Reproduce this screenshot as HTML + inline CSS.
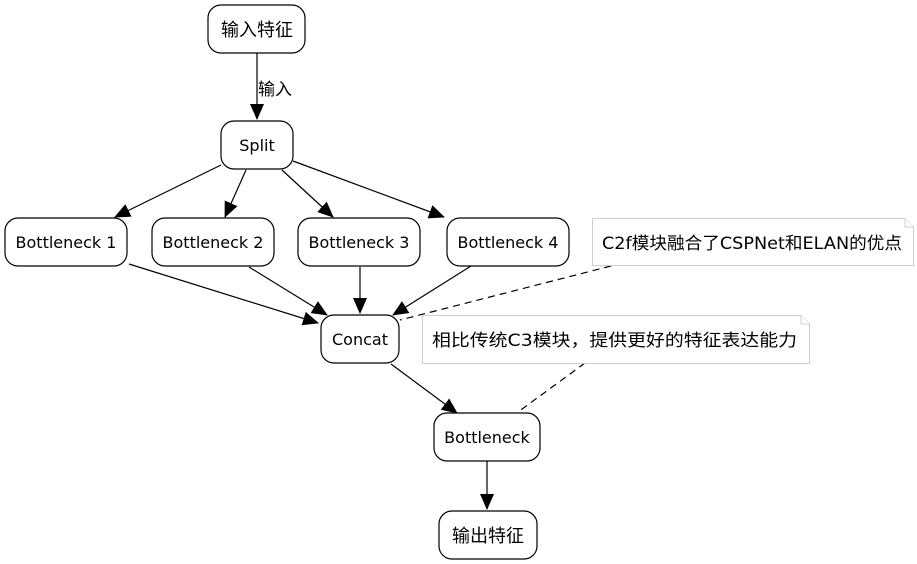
<!DOCTYPE html>
<html><head><meta charset="utf-8"><style>
html,body{margin:0;padding:0;background:#fff;}
svg{display:block;}
text{font-family:"DejaVu Sans","Noto Sans CJK SC",sans-serif;font-size:16px;fill:#000;}
.cj{font-size:18px;}
</style></head><body>
<svg width="917" height="564" viewBox="0 0 917 564" xmlns="http://www.w3.org/2000/svg">
<defs>
<marker id="a2" markerWidth="16" markerHeight="14" refX="15" refY="7" orient="auto" markerUnits="userSpaceOnUse">
<path d="M0,0 L16,7 L0,14 z" fill="#000"/></marker>
</defs>
<g stroke="#000" stroke-width="1.2" fill="none">
<line x1="257" y1="53" x2="257" y2="119" marker-end="url(#a2)"/>
<line x1="221" y1="165" x2="115" y2="217" marker-end="url(#a2)"/>
<line x1="246" y1="170" x2="225" y2="217" marker-end="url(#a2)"/>
<line x1="282" y1="170" x2="333" y2="217" marker-end="url(#a2)"/>
<line x1="293" y1="161" x2="444" y2="217" marker-end="url(#a2)"/>
<line x1="129" y1="264" x2="318" y2="323" marker-end="url(#a2)"/>
<line x1="249" y1="267" x2="327" y2="315" marker-end="url(#a2)"/>
<line x1="360" y1="267" x2="360" y2="313" marker-end="url(#a2)"/>
<line x1="471" y1="266" x2="393" y2="315" marker-end="url(#a2)"/>
<line x1="391" y1="364" x2="457" y2="413" marker-end="url(#a2)"/>
<line x1="487" y1="461" x2="487" y2="509" marker-end="url(#a2)"/>
<line x1="611" y1="266" x2="400" y2="320" stroke-dasharray="7,5"/>
<line x1="585" y1="363" x2="518" y2="412" stroke-dasharray="7,5"/>
</g>
<g stroke="#000" stroke-width="1.2" fill="#fff">
<rect x="208" y="5" width="97" height="48" rx="13"/>
<rect x="221" y="121" width="72" height="48" rx="13"/>
<rect x="5" y="218" width="122" height="48" rx="13"/>
<rect x="152" y="218" width="122" height="48" rx="13"/>
<rect x="298" y="218" width="122" height="48" rx="13"/>
<rect x="447" y="218" width="122" height="48" rx="13"/>
<rect x="321" y="315" width="78" height="48" rx="13"/>
<rect x="434" y="413" width="106" height="48" rx="13"/>
<rect x="439" y="511" width="98" height="48" rx="13"/>
</g>
<g stroke="#cfcfcf" stroke-width="1" fill="#fff">
<path d="M592.5,218.5 H905 L913.5,227 V265.5 H592.5 Z"/>
<path d="M905,218.5 V227 H913.5"/>
<path d="M422.5,315.5 H801 L809.5,324 V363.5 H422.5 Z"/>
<path d="M801,315.5 V324 H809.5"/>
</g>
<g text-anchor="middle">
<text class="cj" x="257" y="36">输入特征</text>
<text x="257" y="151">Split</text>
<text x="66" y="248">Bottleneck 1</text>
<text x="213" y="248">Bottleneck 2</text>
<text x="359" y="248">Bottleneck 3</text>
<text x="508" y="248">Bottleneck 4</text>
<text x="360" y="345">Concat</text>
<text x="487" y="443">Bottleneck</text>
<text class="cj" x="488" y="542">输出特征</text>
</g>
<text x="602" y="249" textLength="300" lengthAdjust="spacingAndGlyphs" style="font-size:17px">C2f模块融合了CSPNet和ELAN的优点</text>
<text x="432" y="346" textLength="365" lengthAdjust="spacingAndGlyphs" style="font-size:17px">相比传统C3模块，提供更好的特征表达能力</text>
<text x="258" y="95" style="font-size:17px">输入</text>
</svg>
</body></html>
